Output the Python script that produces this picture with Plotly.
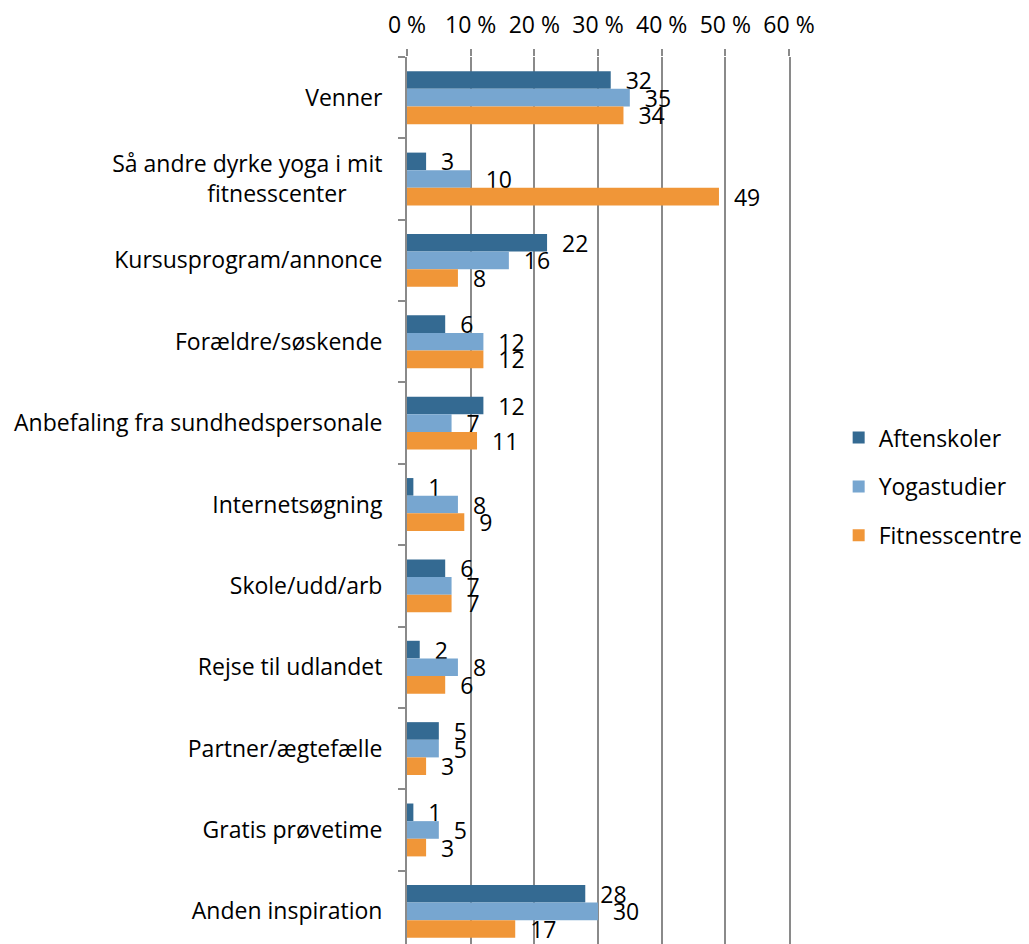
import plotly.graph_objects as go

categories = [
    "Venner",
    "Så andre dyrke yoga i mit<br>fitnesscenter" + "\u00a0" * 6,
    "Kursusprogram/annonce",
    "Forældre/søskende",
    "Anbefaling fra sundhedspersonale",
    "Internetsøgning",
    "Skole/udd/arb",
    "Rejse til udlandet",
    "Partner/ægtefælle",
    "Gratis prøvetime",
    "Anden inspiration",
]
aftenskoler = [32, 3, 22, 6, 12, 1, 6, 2, 5, 1, 28]
yogastudier = [35, 10, 16, 12, 7, 8, 7, 8, 5, 5, 30]
fitnesscentre = [34, 49, 8, 12, 11, 9, 7, 6, 3, 3, 17]
x_ticks = [0, 10, 20, 30, 40, 50, 60]
x_tick_labels = [f"{t}\u00a0%" for t in x_ticks]

series = [
    ("Aftenskoler", aftenskoler, "#346A92"),
    ("Yogastudier", yogastudier, "#77A6D0"),
    ("Fitnesscentre", fitnesscentre, "#F09638"),
]

FONT = "Open Sans"
FS = 23
fig = go.Figure()
for i, (name, vals, color) in enumerate(series):
    fig.add_trace(go.Bar(
        name=name, y=categories, x=vals, orientation="h",
        marker=dict(color=color, line=dict(width=0)),
        text=[str(v) for v in vals], texttemplate="\u00a0\u00a0%{text}",
        textposition="outside", cliponaxis=False, constraintext="none",
        textfont=dict(family=FONT, size=FS, color="black"),
        legendgroup=name,
    ))

# the page body adds an 8px offset; compensate in margins/size
fig.update_layout(
    width=1021, height=945,
    barmode="group", bargap=0.35, bargroupgap=0,
    paper_bgcolor="white", plot_bgcolor="white",
    margin=dict(l=399, r=238, t=49, b=1),
    font=dict(family=FONT, size=FS, color="black"),
    legend=dict(x=1.13, y=0.52, xanchor="left", yanchor="middle",
                traceorder="grouped", tracegroupgap=16,
                font=dict(family=FONT, size=FS, color="black")),
    xaxis=dict(side="top", range=[0, 60], tickvals=x_ticks, ticktext=x_tick_labels,
               showgrid=True, gridcolor="#8A8A8A", gridwidth=2,
               ticks="outside", ticklen=7, tickwidth=2, tickcolor="#8A8A8A",
               ticklabelstandoff=7,
               showline=False, zeroline=False,
               tickfont=dict(family=FONT, size=FS, color="black")),
    yaxis=dict(autorange="reversed", showgrid=False, zeroline=False,
               showline=True, mirror=True, linecolor="#8A8A8A", linewidth=2,
               ticks="outside", tickson="boundaries", ticklen=7, tickwidth=2,
               tickcolor="#8A8A8A", ticklabelstandoff=18,
               tickfont=dict(family=FONT, size=FS, color="black")),
)

fig.write_html("out.html")
